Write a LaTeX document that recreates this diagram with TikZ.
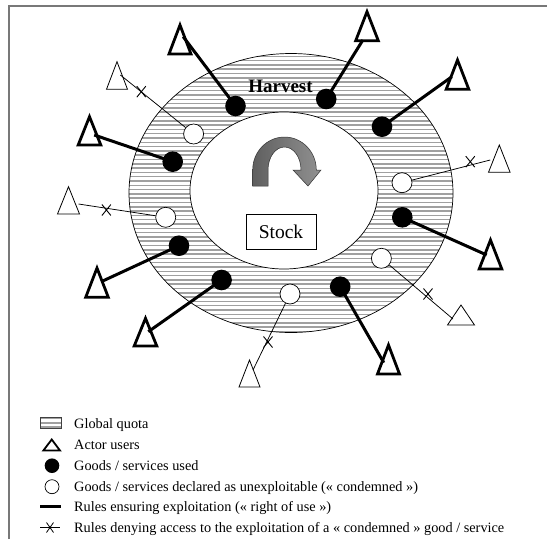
\documentclass[tikz,border=0pt]{standalone}
\usepackage{fontspec}
\setmainfont{Liberation Serif}
\definecolor{stripe}{RGB}{160,160,160}
\definecolor{framegray}{RGB}{120,120,120}
\definecolor{arrowdark}{RGB}{95,95,95}
\definecolor{arrowlight}{RGB}{145,145,145}
\tikzset{
  stripeline/.style={draw=stripe, line width=1.5pt},
  usedgood/.style={circle, fill=black, inner sep=0pt, minimum size=20.6pt},
  condgood/.style={circle, draw=black, fill=white, line width=0.7pt, inner sep=0pt, minimum size=20pt},
  userule/.style={line width=3pt},
  denyrule/.style={line width=0.75pt},
  boldtri/.style={line width=2.8pt, line join=miter},
  thintri/.style={line width=0.8pt},
  xmark/.pic={\draw[line width=0.9pt] (-4.5,-5.5) -- (4.5,5.5) (-4.5,5.5) -- (4.5,-5.5);},
  legtext/.style={anchor=base west, inner sep=0pt, font=\fontsize{14.3}{17}\selectfont}
}
\begin{document}
\begin{tikzpicture}[x=1pt,y=-1pt]
\useasboundingbox (0,0) rectangle (547,539);
% frame
\draw[framegray, line width=1.3pt] (9,539) -- (9,6) -- (547,6);

% hatched ring
\begin{scope}
  \clip (291,193) ellipse [x radius=162pt, y radius=139.5pt];
  \foreach \yy in {52,56.3,...,336} \draw[stripeline] (120,\yy) -- (460,\yy);
\end{scope}
\draw[line width=0.7pt] (291,193) ellipse [x radius=162pt, y radius=139.5pt];
\draw[line width=0.7pt, fill=white] (284,190.5) ellipse [x radius=94pt, y radius=78.5pt];

\node[font=\bfseries\fontsize{19}{22}\selectfont, inner sep=0pt] (harvest) at (280.5,86.5) {Harvest};

% curved arrow
\shade[left color=arrowdark, right color=arrowlight, draw=black!80, line width=0.5pt]
  (252.7,186) -- (252.7,170)
  arc[start angle=180, end angle=0, x radius=31.8pt, y radius=33pt]
  -- (321,170) -- (308,186) -- (293,170) -- (301,170)
  arc[start angle=0, end angle=180, x radius=16.5pt, y radius=23pt]
  -- (268,186) -- cycle;

\node[draw, line width=0.8pt, minimum width=70pt, minimum height=35pt, inner sep=0pt,
      font=\fontsize{19.5}{22}\selectfont] (stock) at (281,231.5) {Stock};

% goods
\node[usedgood] (F1) at (235.5,106) {};
\node[usedgood] (F2) at (326.2,99) {};
\node[usedgood] (F3) at (382,126.7) {};
\node[usedgood] (F4) at (172.7,161.7) {};
\node[usedgood] (F5) at (402.3,217.3) {};
\node[usedgood] (F6) at (179,245.7) {};
\node[usedgood] (F7) at (221.6,280) {};
\node[usedgood] (F8) at (340.2,286.7) {};
\node[condgood] (O1) at (193.6,134) {};
\node[condgood] (O2) at (402,182.7) {};
\node[condgood] (O3) at (165.7,217.3) {};
\node[condgood] (O4) at (381.4,258.3) {};
\node[condgood] (O5) at (290,294) {};

% actor users (bold)
\draw[boldtri] (180,25) -- ++(11,29) -- ++(-22,0) -- cycle;
\draw[boldtri] (367,11.7) -- ++(11.3,29) -- ++(-22.6,0) -- cycle;
\draw[boldtri] (457.5,60) -- ++(11.3,29.3) -- ++(-22.6,0) -- cycle;
\draw[boldtri] (89.5,116.7) -- ++(11.3,28.3) -- ++(-22.6,0) -- cycle;
\draw[boldtri] (490.5,240) -- ++(11.3,29) -- ++(-22.6,0) -- cycle;
\draw[boldtri] (97,268) -- ++(11.3,29.3) -- ++(-22.6,0) -- cycle;
\draw[boldtri] (145.5,318.3) -- ++(11.3,27.7) -- ++(-22.6,0) -- cycle;
\draw[boldtri] (388.5,345) -- ++(11,29) -- ++(-22,0) -- cycle;
% actor users (thin)
\draw[thintri] (117,61.7) -- ++(10.5,27.6) -- ++(-21,0) -- cycle;
\draw[thintri] (499.3,145) -- ++(10.8,27.3) -- ++(-21.6,0) -- cycle;
\draw[thintri] (68.5,186.7) -- ++(11,27.3) -- ++(-22,0) -- cycle;
\draw[thintri] (461,305) -- ++(13.5,20) -- ++(-27,0) -- cycle;
\draw[thintri] (249.5,360) -- ++(10.5,27) -- ++(-21,0) -- cycle;

% connector ends
\coordinate (t1) at (183.2,36.7);
\coordinate (t2) at (362.9,40);
\coordinate (t3) at (451.9,76.7);
\coordinate (t4) at (94.2,135);
\coordinate (t5) at (486.7,255);
\coordinate (t6) at (101.2,281.7);
\coordinate (t7) at (148.3,331.7);
\coordinate (t8) at (383.8,362.7);
\coordinate (u1) at (120.4,75);
\coordinate (u2) at (490.2,160);
\coordinate (u3) at (78.5,204);
\coordinate (u4) at (453,319);
\coordinate (u5) at (253,370);

% rules
\draw[userule] (F1.center) -- (t1);
\draw[userule] (F2.center) -- (t2);
\draw[userule] (F3.center) -- (t3);
\draw[userule] (F4.center) -- (t4);
\draw[userule] (F5.center) -- (t5);
\draw[userule] (F6.center) -- (t6);
\draw[userule] (F7.center) -- (t7);
\draw[userule] (F8.center) -- (t8);
\draw[denyrule] (O1) -- (u1);
\draw[denyrule] (O2) -- (u2);
\draw[denyrule] (O3) -- (u3);
\draw[denyrule] (O4) -- (u4);
\draw[denyrule] (O5) -- (u5);
\pic at (141.3,91.7) {xmark};
\pic at (470.3,161.7) {xmark};
\pic at (106.4,210) {xmark};
\pic at (428,294) {xmark};
\pic at (268,342) {xmark};

% legend
\begin{scope}
  \clip (40,417) rectangle (61,428);
  \foreach \yy in {418.5,422.8,427.1} \draw[stripeline] (38,\yy) -- (63,\yy);
\end{scope}
\draw[black!75, line width=0.8pt] (40,417) rectangle (61,428);
\draw[line width=1.8pt, line join=miter] (51.7,439.5) -- ++(8.3,11) -- ++(-16.6,0) -- cycle;
\node[circle, fill=black, inner sep=0pt, minimum size=14.6pt] (lf) at (52,465.7) {};
\node[circle, draw, line width=0.7pt, inner sep=0pt, minimum size=14pt] (lo) at (52,486.7) {};
\coordinate (la) at (40,506.7);
\coordinate (lb) at (61,506.7);
\draw[line width=2.8pt] (la) -- (lb);
\coordinate (lc) at (40,527.5);
\coordinate (ld) at (60,527.5);
\draw[denyrule] (lc) -- (ld);
\draw[line width=0.8pt] (46.5,522.5) -- (53.5,532.5) (46.5,532.5) -- (53.5,522.5);

\node[legtext] (l1) at (74,428.6) {Global quota};
\node[legtext] (l2) at (74,449.4) {Actor users};
\node[legtext] (l3) at (74,470.2) {Goods / services used};
\node[legtext] (l4) at (74,491) {Goods / services declared as unexploitable (« condemned »)};
\node[legtext] (l5) at (74,511.8) {Rules ensuring exploitation (« right of use »)};
\node[legtext] (l6) at (74,532.6) {Rules denying access to the exploitation of a « condemned » good / service};
\end{tikzpicture}
\end{document}
